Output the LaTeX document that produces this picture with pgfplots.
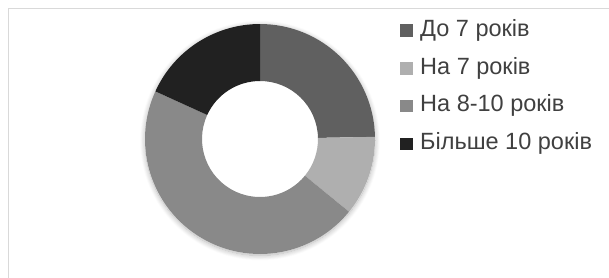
\documentclass[border=0pt]{standalone}
\usepackage{fontspec}
\setmainfont{Liberation Sans}
\usepackage{pgfplots}
\usepackage{pgfplotstable}
\pgfplotsset{compat=1.18}
\usetikzlibrary{shadows.blur}

\definecolor{s0}{RGB}{96,96,96}
\definecolor{s1}{RGB}{175,175,175}
\definecolor{s2}{RGB}{137,137,137}
\definecolor{s3}{RGB}{33,33,33}
\definecolor{txt}{RGB}{64,64,64}
\definecolor{framec}{RGB}{217,217,217}

\pgfplotstableread{
value
24.7
11.2
45.9
18.2
}\datatable

\begin{document}
\begin{tikzpicture}
\useasboundingbox (0,0) rectangle (609pt,277pt);
\begin{axis}[
  at={(0,0)}, anchor=south west,
  x=1pt, y=1pt, xmin=0, xmax=609, ymin=0, ymax=277,
  hide axis, clip=false, scale only axis,
  legend style={at={(axis cs:400,258)}, anchor=north west, draw=none, fill=none,
    font=\fontsize{23.5}{28}\selectfont, text=txt, inner sep=0pt, row sep=14.8pt,
    nodes={inner sep=1pt, text height=16pt, text depth=5pt}},
  legend cell align=left,
  legend image code/.code={\fill[#1, draw=none] (0pt,-6pt) rectangle (13pt,6.5pt);\path[draw=none, fill=none] (0pt,0pt) -- (19pt,0pt);},
]
\pgfplotsextra{
  \draw[framec, line width=1pt] (axis cs:8.5,-20) rectangle (axis cs:640,268.5);
  \coordinate (C) at (axis cs:260,138);
  \fill[white, blur shadow={shadow xshift=0pt, shadow yshift=-1.5pt, shadow blur radius=5pt, shadow opacity=30, shadow blur steps=12}] (C) circle[radius=115pt];
  \gdef\acc{0}
  \foreach \i in {0,...,3}{
    \pgfplotstablegetelem{\i}{value}\of\datatable
    \pgfmathsetmacro\a{90-\acc*3.6}
    \pgfmathsetmacro\newacc{\acc+\pgfplotsretval}
    \xdef\acc{\newacc}
    \pgfmathsetmacro\b{90-\acc*3.6}
    \fill[s\i] ([shift={(\a:115pt)}]C) arc[start angle=\a,end angle=\b,radius=115pt]
      -- ([shift={(\b:58pt)}]C) arc[start angle=\b,end angle=\a,radius=58pt] -- cycle;
  }
}
\addlegendimage{s0}\addlegendentry{До 7 років}
\addlegendimage{s1}\addlegendentry{На 7 років}
\addlegendimage{s2}\addlegendentry{На 8-10 років}
\addlegendimage{s3}\addlegendentry{Більше 10 років}
\end{axis}
\end{tikzpicture}
\end{document}
